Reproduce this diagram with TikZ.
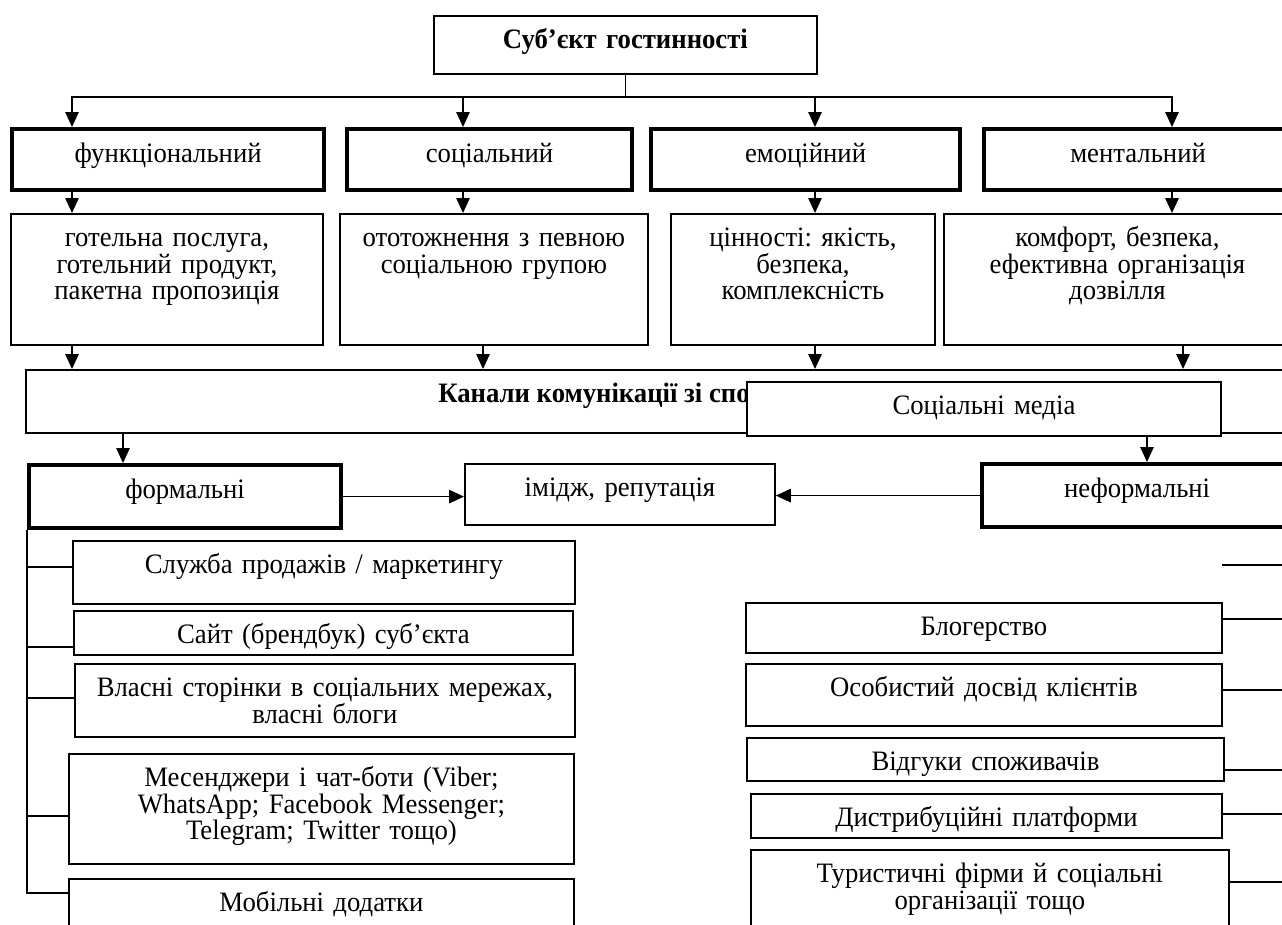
\documentclass[tikz,border=0pt]{standalone}
\usepackage{fontspec}
\setmainfont{Liberation Serif}[FakeStretch=0.95]
\frenchspacing
\usetikzlibrary{arrows.meta}

\begin{document}
\begin{tikzpicture}[
  x = 0.02cm, y = -0.02cm,
  cell/.style   = {draw, rectangle, line width=1.1pt, fill=white,
                   anchor=north west, align=center,
                   inner xsep=0pt, inner ysep=0pt,
                   text height=0.66cm,
                   font=\fontsize{16}{15}\selectfont},
  cellB/.style  = {cell, line width=2.4pt},
  headbox/.style= {cell, font=\fontsize{16}{15}\selectfont\bfseries},
  hdr/.style    = {inner sep=0pt, font=\fontsize{16}{15}\selectfont\bfseries},
  arr/.style    = {-{Triangle[length=0.3cm, width=0.27cm]}, line width=0.8pt},
  lnk/.style    = {line width=0.8pt}
]
\useasboundingbox (0,0) rectangle (1282,924);
\clip (0,0) rectangle (1282,924);
\fill[white] (0,0) rectangle (1282,924);

%── Суб'єкт ──────────────────────────────────────────────────────────────
\node[headbox, text width=7.66cm, text depth=0.50cm] (subj) at (433,15)
  {Суб’єкт гостинності};

%── Ряд 1 (складові) ─────────────────────────────────────────────────────
\node[cellB, text width=6.24cm, text depth=0.56cm] (func) at (10,127) {функціональний};
\node[cellB, text width=5.70cm, text depth=0.56cm] (soc)  at (345,127) {соціальний};
\node[cellB, text width=6.18cm, text depth=0.56cm] (emo)  at (649,127) {емоційний};
\node[cellB, text width=6.16cm, text depth=0.56cm] (ment) at (982,127) {ментальний};

%── Ряд 2 (зміст) ────────────────────────────────────────────────────────
\node[cell, text width=6.24cm, text depth=1.96cm] (funcD) at (10,213)
  {готельна послуга,\\ готельний продукт,\\ пакетна пропозиція};
\node[cell, text width=6.16cm, text depth=1.96cm] (socD) at (339,213)
  {ототожнення з певною\\ соціальною групою};
\node[cell, text width=5.28cm, text depth=1.96cm] (emoD) at (670,213)
  {цінності: якість,\\ безпека,\\ комплексність};
\node[cell, text width=6.94cm, text depth=1.96cm] (mentD) at (943,213)
  {комфорт, безпека,\\ ефективна організація\\ дозвілля};

%── Канали ───────────────────────────────────────────────────────────────
\node[cell, text width=25.30cm, text depth=0.60cm] (chan) at (25,369) {};
\node[hdr, anchor=base west] (chanT) at (438,402) {Канали комунікації зі спо};
\node[cell, text width=9.48cm, text depth=0.42cm] (smedia) at (746,381) {Соціальні медіа};

\node[cellB, text width=6.24cm, text depth=0.60cm] (formal)   at (27,463)  {формальні};
\node[cell,  text width=6.20cm, text depth=0.56cm] (image)    at (464,463) {імідж, репутація};
\node[cellB, text width=6.20cm, text depth=0.60cm] (informal) at (980,462) {неформальні};

%── Формальні канали ─────────────────────────────────────────────────────
\node[cell, text width=10.04cm, text depth=0.60cm] (sales) at (72,540)
  {Служба продажів / маркетингу};
\node[cell, text width=9.98cm, text depth=0.22cm] (site) at (73,610)
  {Сайт (брендбук) суб’єкта};
\node[cell, text width=10.00cm, text depth=0.80cm] (pages) at (74,663)
  {Власні сторінки в соціальних мережах,\\ власні блоги};
\node[cell, text width=10.10cm, text depth=1.54cm] (msg) at (68,753)
  {Месенджери і чат-боти (Viber;\\ WhatsApp; Facebook Messenger;\\ Telegram; Twitter тощо)};
\node[cell, text width=10.10cm, text depth=0.94cm] (mobile) at (68,878)
  {Мобільні додатки};

%── Неформальні канали ───────────────────────────────────────────────────
\node[cell, text width=9.52cm, text depth=0.34cm] (blog)  at (745,602) {Блогерство};
\node[cell, text width=9.52cm, text depth=0.58cm] (exper) at (745,663) {Особистий досвід клієнтів};
\node[cell, text width=9.54cm, text depth=0.20cm] (revw)  at (746,737) {Відгуки споживачів};
\node[cell, text width=9.42cm, text depth=0.22cm] (distr) at (750,793) {Дистрибуційні платформи};
\node[cell, text width=9.56cm, text depth=0.94cm] (tour)  at (750,849)
  {Туристичні фірми й соціальні\\ організації тощо};

%── Стрілки ──────────────────────────────────────────────────────────────
\coordinate (bus) at (subj.south |- 0,97);
\draw[lnk] (subj.south) -- (bus);
\foreach \n/\x in {func/72, soc/463, emo/815, ment/1172}
  \draw[arr] (bus) -| (\x,0 |- \n.north);

\foreach \a/\b/\x in {func/funcD/72, soc/socD/463, emo/emoD/815, ment/mentD/1172}
  \draw[arr] (\x,0 |- \a.south) -- (\x,0 |- \b.north);

\foreach \a/\x in {funcD/72, socD/483, emoD/815, mentD/1183}
  \draw[arr] (\x,0 |- \a.south) -- (\x,0 |- chan.north);

\draw[arr] (123,0 |- chan.south) -- (123,0 |- formal.north);
\draw[arr] (1147,0 |- smedia.south) -- (1147,0 |- informal.north);
\draw[arr] (formal.east) -- (formal.east -| image.west);
\draw[arr] (informal.west) -- (informal.west -| image.east);

% формальні
\draw[lnk] (formal.south west) |- (mobile.west |- 0,893);
\foreach \n/\y in {sales/567, site/647, pages/698, msg/816}
  \draw[lnk] (formal.south west |- 0,\y) -- (\n.west |- 0,\y);

% неформальні
\coordinate (rbus) at (1288,0);
\draw[lnk] (rbus |- informal.south) -- (rbus |- 0,882);
\draw[lnk] (smedia.east |- 0,565) -- (rbus |- 0,565);
\foreach \n/\y in {blog/619, exper/690, revw/770, distr/814, tour/882}
  \draw[lnk] (\n.east |- 0,\y) -- (rbus |- 0,\y);

\end{tikzpicture}
\end{document}
